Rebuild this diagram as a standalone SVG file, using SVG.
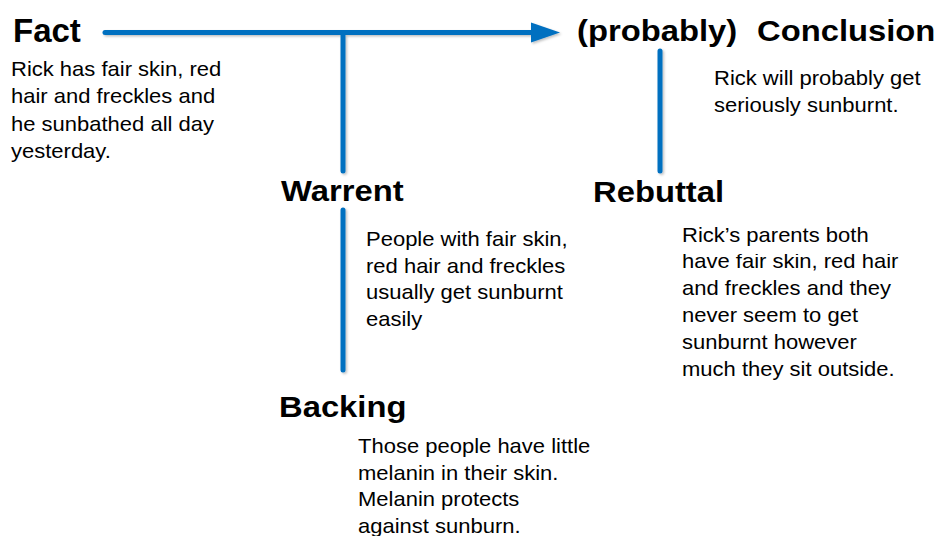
<svg xmlns="http://www.w3.org/2000/svg" width="940" height="536" viewBox="0 0 940 536">
  <defs>
    <filter id="soft-shadow" x="-20%" y="-20%" width="140%" height="140%">
      <feDropShadow dx="1.5" dy="1.5" stdDeviation="0.8" flood-color="#000000" flood-opacity="0.25"/>
    </filter>
  </defs>
  <style>
    .head { font-family: "Liberation Sans", Arial, sans-serif; font-weight: bold; font-size: 29px; fill: #000000; }
    .body { font-family: "Liberation Sans", Arial, sans-serif; font-size: 20px; fill: #000000; }
    .link { stroke: #0070C0; stroke-width: 5; stroke-linecap: round; fill: none; }
    .head-fill { fill: #0070C0; }
  </style>
  <rect width="940" height="536" fill="#ffffff"/>

  <!-- connectors -->
  <g id="connectors" filter="url(#soft-shadow)">
    <line class="link" x1="105" y1="32.5" x2="536" y2="32.5"/>
    <polygon class="head-fill" points="531,22.5 560,32.5 531,42.5"/>
    <line class="link" x1="343" y1="32.5" x2="343" y2="171"/>
    <line class="link" x1="343" y1="210" x2="343" y2="370"/>
    <line class="link" x1="660" y1="51" x2="660" y2="171"/>
  </g>

  <!-- Fact -->
  <g id="fact">
    <text class="head" style="font-size:33px" x="13" y="42">Fact</text>
    <text class="body" transform="translate(11,76) scale(1.1,1)">
      <tspan x="0" y="0">Rick has fair skin, red</tspan>
      <tspan x="0" y="27.3">hair and freckles and</tspan>
      <tspan x="0" y="54.6">he sunbathed all day</tspan>
      <tspan x="0" y="81.9">yesterday.</tspan>
    </text>
  </g>

  <!-- Conclusion -->
  <g id="conclusion">
    <text class="head" transform="translate(577,41) scale(1.13,1)">(probably)</text>
    <text class="head" transform="translate(757,41) scale(1.13,1)">Conclusion</text>
    <text class="body" transform="translate(714,85) scale(1.1,1)">
      <tspan x="0" y="0">Rick will probably get</tspan>
      <tspan x="0" y="26.7">seriously sunburnt.</tspan>
    </text>
  </g>

  <!-- Warrant -->
  <g id="warrent">
    <text class="head" transform="translate(281,200.7) scale(1.13,1)">Warrent</text>
    <text class="body" transform="translate(366,246) scale(1.1,1)">
      <tspan x="0" y="0">People with fair skin,</tspan>
      <tspan x="0" y="26.6">red hair and freckles</tspan>
      <tspan x="0" y="53.2">usually get sunburnt</tspan>
      <tspan x="0" y="79.8">easily</tspan>
    </text>
  </g>

  <!-- Backing -->
  <g id="backing">
    <text class="head" transform="translate(279,416.7) scale(1.13,1)">Backing</text>
    <text class="body" transform="translate(358,453.3) scale(1.1,1)">
      <tspan x="0" y="0">Those people have little</tspan>
      <tspan x="0" y="26.5">melanin in their skin.</tspan>
      <tspan x="0" y="53">Melanin protects</tspan>
      <tspan x="0" y="79.5">against sunburn.</tspan>
    </text>
  </g>

  <!-- Rebuttal -->
  <g id="rebuttal">
    <text class="head" transform="translate(593,201.7) scale(1.13,1)">Rebuttal</text>
    <text class="body" transform="translate(682,241.7) scale(1.1,1)">
      <tspan x="0" y="0">Rick’s parents both</tspan>
      <tspan x="0" y="26.8">have fair skin, red hair</tspan>
      <tspan x="0" y="53.6">and freckles and they</tspan>
      <tspan x="0" y="80.4">never seem to get</tspan>
      <tspan x="0" y="107.2">sunburnt however</tspan>
      <tspan x="0" y="134">much they sit outside.</tspan>
    </text>
  </g>
</svg>
